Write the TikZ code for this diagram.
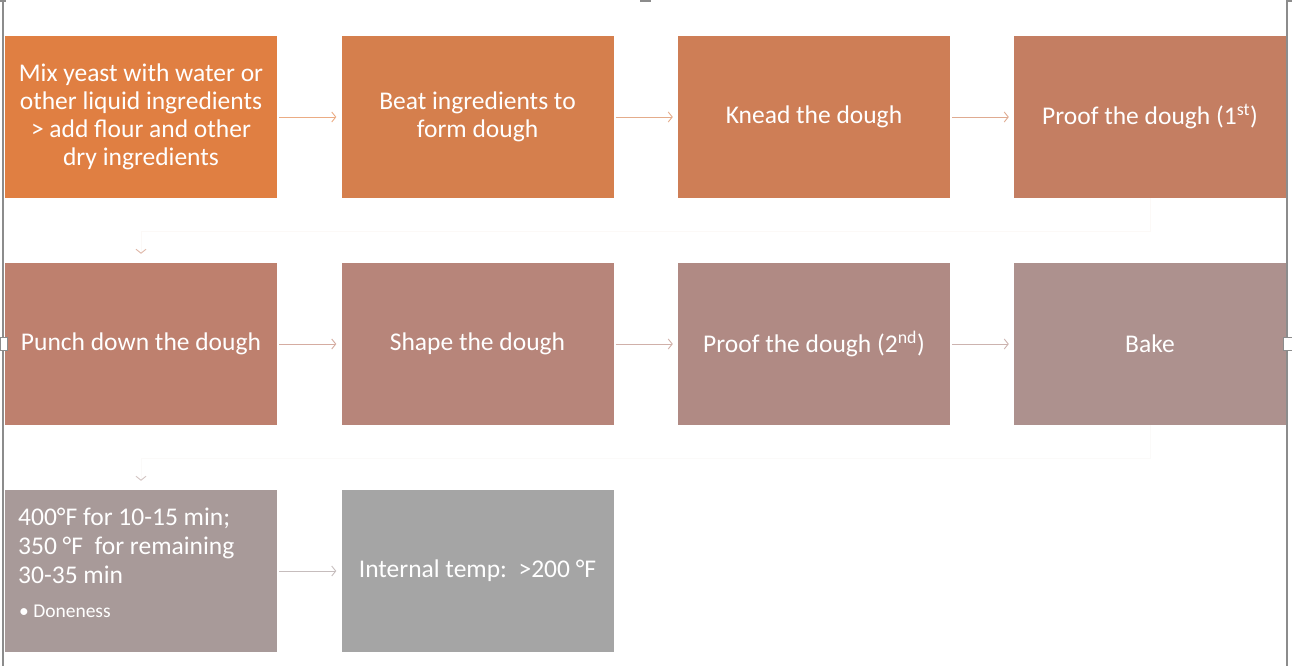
\documentclass[tikz,border=0pt]{standalone}
\usepackage{fontspec}
\setmainfont{Carlito}
\usetikzlibrary{arrows.meta}
\definecolor{c1}{HTML}{E07F42}
\definecolor{c2}{HTML}{D57F4D}
\definecolor{c3}{HTML}{CE7E56}
\definecolor{c4}{HTML}{C47E62}
\definecolor{c5}{HTML}{BE806E}
\definecolor{c6}{HTML}{B7857A}
\definecolor{c7}{HTML}{B08A84}
\definecolor{c8}{HTML}{AD918E}
\definecolor{c9}{HTML}{A89A99}
\definecolor{c10}{HTML}{A5A5A5}
\definecolor{framegray}{HTML}{8C8C8C}
\begin{document}
\begin{tikzpicture}[x=1pt,y=-1pt,
  stepbox/.style={rectangle, minimum width=272pt, minimum height=162pt, inner sep=0pt,
    text=white, font=\fontsize{25.5}{28}\selectfont, align=center},
  flow/.style={line width=0.9pt, -{Straight Barb[length=4pt,width=10pt]}, shorten >=5pt, shorten <=2pt},
  rowline/.style={line width=0.9pt, draw=#1!5, -{Straight Barb[length=4pt,width=10pt,color=#1!55]}, shorten >=9pt},
  handle/.style={draw=framegray, fill=white, line width=0.8pt}
]
\useasboundingbox (0,0) rectangle (1292,666);
% frame
\draw[framegray, line width=1.3pt] (3,0) -- (3,666);
\draw[framegray, line width=1.3pt] (1287,0) -- (1287,666);
% row 1
\node[stepbox, fill=c1] (n1) at (141,117) {Mix yeast with water or\\other liquid ingredients\\> add flour and other\\dry ingredients};
\node[stepbox, fill=c2] (n2) at (477.5,117) {Beat ingredients to\\form dough};
\node[stepbox, fill=c3] (n3) at (814,117) {Knead the dough};
\node[stepbox, fill=c4] (n4) at (1150,117) {Proof the dough (1\textsuperscript{st})};
% row 2
\node[stepbox, fill=c5] (n5) at (141,344) {Punch down the dough};
\node[stepbox, fill=c6] (n6) at (477.5,344) {Shape the dough};
\node[stepbox, fill=c7] (n7) at (814,344) {Proof the dough (2\textsuperscript{nd})};
\node[stepbox, fill=c8] (n8) at (1150,344) {Bake};
% row 3
\node[stepbox, fill=c9] (n9) at (141,571) {};
\node[anchor=north west, inner sep=0pt, text=white, align=left, font=\fontsize{25.5}{28.8}\selectfont] (t9) at (18,508)
  {400°F for 10-15 min;\\350 °F\ \ for remaining\\30-35 min};
\node[anchor=north west, inner sep=0pt, text=white, font=\fontsize{19.5}{22}\selectfont] (d9) at (19,605) {• Doneness};
\node[stepbox, fill=c10] (n10) at (477.5,571) {Internal temp:\ \ >200 °F};
% connectors
\draw[flow, draw=c1!65] (n1) -- (n2);
\draw[flow, draw=c2!65] (n2) -- (n3);
\draw[flow, draw=c3!65] (n3) -- (n4);
\draw[flow, draw=c5!65] (n5) -- (n6);
\draw[flow, draw=c6!65] (n6) -- (n7);
\draw[flow, draw=c7!65] (n7) -- (n8);
\draw[flow, draw=c9!65] (n9) -- (n10);
\draw[rowline=c4] (n4.south) -- ++(0,33) -| (n5.north);
\draw[rowline=c8] (n8.south) -- ++(0,33) -| (n9.north);
% selection handles
\draw[handle] (0,337) rectangle (7,350);
\draw[handle] (1283,337) rectangle (1292,350);
\fill[framegray] (640,0) rectangle (651,2.5);
\fill[framegray] (0,0) rectangle (6,2.5);
\fill[framegray] (1286,0) rectangle (1292,2.5);
\end{tikzpicture}
\end{document}
